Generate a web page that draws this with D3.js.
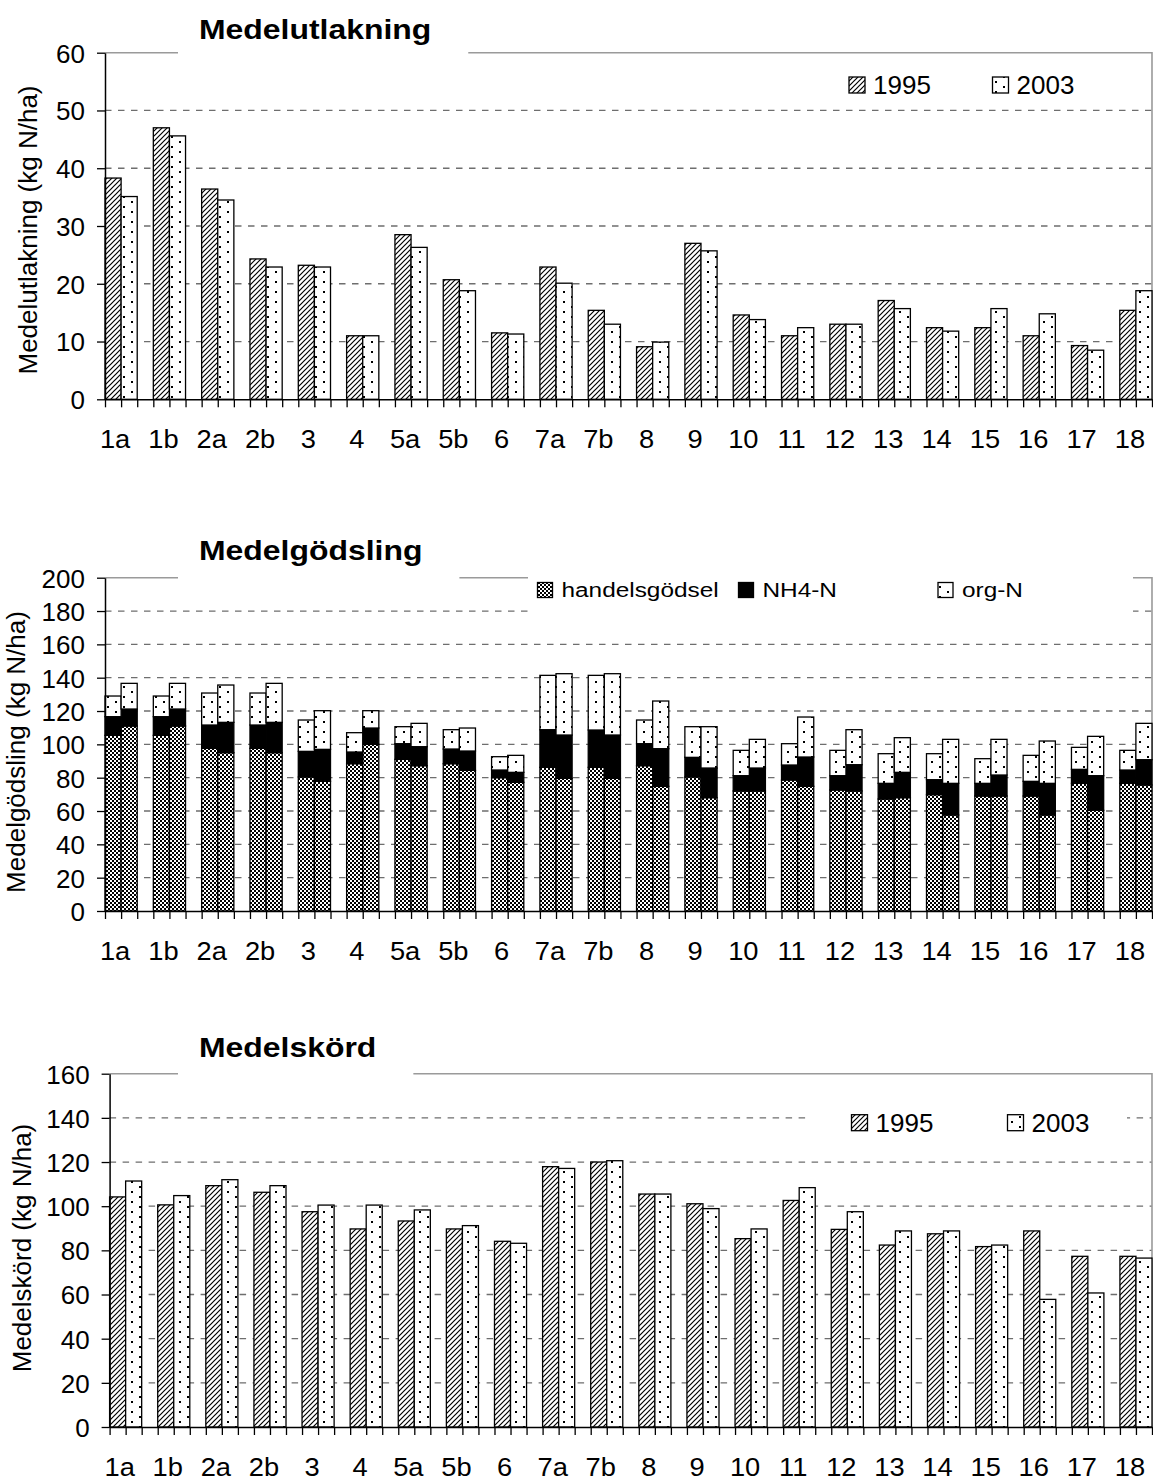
<!DOCTYPE html>
<html>
<head>
<meta charset="utf-8">
<script src="https://cdn.jsdelivr.net/npm/d3@7/dist/d3.min.js"></script>
<style>
  html, body { margin: 0; padding: 0; background: #fff; }
  svg { display: block; }
</style>
</head>
<body>
<svg id="chart" width="1153" height="1481"></svg>
<script>
// ---- data -------------------------------------------------------------
const categories = ["1a","1b","2a","2b","3","4","5a","5b","6","7a","7b","8","9","10","11","12","13","14","15","16","17","18"];
const years = ["1995", "2003"];

// Medelutlakning (kg N/ha)
const leaching1995 = [38.3, 47.0, 36.4, 24.3, 23.2, 11.0, 28.5, 20.7, 11.5, 22.9, 15.4, 9.1, 27.0, 14.6, 11.0, 13.0, 17.1, 12.4, 12.4, 11.0, 9.3, 15.4];
const leaching2003 = [35.1, 45.6, 34.5, 22.9, 22.9, 11.0, 26.3, 18.8, 11.3, 20.1, 13.0, 9.9, 25.7, 13.8, 12.4, 13.0, 15.7, 11.8, 15.7, 14.8, 8.5, 18.8];
const leachingTicks = [0, 10, 20, 30, 40, 50, 60];

// Medelgödsling (kg N/ha), stacked: handelsgödsel + NH4-N + org-N
const mineral1995 = [105.4, 105.4, 97.6, 97.6, 80.4, 88.4, 91.0, 88.4, 80.0, 86.2, 86.2, 87.2, 80.4, 72.0, 78.6, 72.6, 67.2, 69.8, 69.0, 69.0, 76.6, 76.6];
const nh4_1995    = [11.2, 11.2, 14.0, 14.0, 15.4, 7.0, 9.4, 8.8, 4.6, 22.6, 22.4, 13.2, 11.8, 9.2, 9.0, 8.6, 9.4, 9.0, 7.6, 8.8, 8.4, 8.0];
const org1995     = [12.4, 12.4, 19.2, 19.2, 18.8, 11.6, 10.2, 11.6, 8.0, 32.6, 32.8, 14.2, 18.4, 15.2, 12.8, 15.2, 17.8, 15.6, 14.8, 15.6, 13.2, 11.8];
const mineral2003 = [111.0, 111.0, 95.0, 95.0, 77.8, 100.0, 87.2, 84.4, 77.2, 79.6, 79.6, 74.8, 68.0, 72.0, 74.8, 72.0, 68.0, 57.6, 69.0, 57.6, 60.4, 75.6];
const nh4_2003    = [10.2, 10.2, 18.2, 18.2, 19.2, 9.8, 11.4, 11.6, 6.0, 26.0, 26.0, 22.6, 17.8, 13.8, 17.6, 15.8, 15.2, 19.0, 12.6, 19.0, 20.8, 15.2];
const org2003     = [15.4, 15.4, 22.4, 23.4, 23.2, 10.4, 14.0, 13.8, 10.2, 36.8, 36.8, 28.6, 24.8, 17.2, 24.0, 21.0, 20.8, 26.4, 21.4, 25.4, 23.6, 21.8];
const fertKeys = ["handelsgödsel", "NH4-N", "org-N"];
const fertTicks = [0, 20, 40, 60, 80, 100, 120, 140, 160, 180, 200];

// Medelskörd (kg N/ha)
const yield1995 = [104.2, 100.6, 109.3, 106.3, 97.5, 89.7, 93.3, 89.7, 84.1, 117.9, 120.0, 105.5, 101.1, 85.3, 102.6, 89.5, 82.4, 87.5, 81.7, 88.8, 77.3, 77.3];
const yield2003 = [111.4, 104.8, 112.0, 109.3, 100.5, 100.5, 98.3, 91.2, 83.2, 117.1, 120.6, 105.5, 98.9, 89.7, 108.4, 97.5, 88.8, 88.8, 82.4, 57.8, 60.7, 76.5];
const yieldTicks = [0, 20, 40, 60, 80, 100, 120, 140, 160];

// ---- drawing ----------------------------------------------------------
const FONT = "'Liberation Sans', Arial, Helvetica, sans-serif";
const svg = d3.select("#chart");
svg.append("rect").attr("width", 1153).attr("height", 1481).attr("fill", "#fff");

// fill patterns
const defs = svg.append("defs");
function pattern(id, w, h, build) {
  const p = defs.append("pattern").attr("id", id)
    .attr("patternUnits", "userSpaceOnUse").attr("width", w).attr("height", h);
  p.append("rect").attr("width", w).attr("height", h).attr("fill", "#fff");
  build(p);
}
pattern("hatch", 5, 5, p => p.append("path")
  .attr("d", "M-1,1 L1,-1 M0,5 L5,0 M4,6 L6,4")
  .attr("stroke", "#000").attr("stroke-width", 1.2));
pattern("dots", 16, 10, p => {
  p.append("rect").attr("x", 3).attr("y", 1).attr("width", 2).attr("height", 2).attr("fill", "#000");
  p.append("rect").attr("x", 11).attr("y", 6).attr("width", 2).attr("height", 2).attr("fill", "#000");
});
pattern("checker", 4, 4, p => {
  p.append("rect").attr("x", 0).attr("y", 0).attr("width", 2).attr("height", 2).attr("fill", "#000");
  p.append("rect").attr("x", 2).attr("y", 2).attr("width", 2).attr("height", 2).attr("fill", "#000");
});

const yearFill = { "1995": "url(#hatch)", "2003": "url(#dots)" };
const fertFill = { "handelsgödsel": "url(#checker)", "NH4-N": "#000", "org-N": "url(#dots)" };

function label(g, str, x, y, opts) {
  const o = Object.assign({ size: 26, weight: "normal", anchor: "start", sx: 1 }, opts || {});
  return g.append("text")
    .attr("transform", `translate(${x},${y}) scale(${o.sx},1)`)
    .attr("font-family", FONT).attr("font-size", o.size).attr("font-weight", o.weight)
    .attr("text-anchor", o.anchor).attr("fill", "#000")
    .text(str);
}

// builds the frame (axes, grid, title) of one panel and returns its scales
function panel(cfg) {
  const g = svg.append("g");
  const slotCount = categories.length * 3;          // two bars + one gap per category
  const slot = (cfg.right - cfg.left) / (slotCount - 1);
  const x = d3.scaleBand().domain(categories)
    .range([cfg.left, cfg.left + slotCount * slot]).paddingInner(0).paddingOuter(0);
  const xs = d3.scaleBand().domain([...years, "gap"]).range([0, x.bandwidth()]);
  const xSlot = d3.scaleLinear().domain([0, slotCount - 1]).range([cfg.left, cfg.right]);
  const y = d3.scaleLinear().domain([0, cfg.max]).range([cfg.bottom, cfg.top]);

  // dashed grid
  g.append("g").selectAll("line")
    .data(cfg.ticks.filter(t => t > 0 && t < cfg.max))
    .join("line")
    .attr("x1", cfg.left).attr("x2", cfg.right)
    .attr("y1", d => y(d)).attr("y2", d => y(d))
    .attr("stroke", "#6e6e6e").attr("stroke-width", 1.3).attr("stroke-dasharray", "6.5,6.5");

  // plot frame top/right
  g.append("path")
    .attr("d", `M${cfg.left},${y(cfg.max)} H${cfg.right} V${cfg.bottom}`)
    .attr("fill", "none").attr("stroke", "#9a9a9a").attr("stroke-width", 1.6);

  const marks = svg.append("g");

  // axes on top of the bars
  const yAxis = svg.append("g").attr("transform", `translate(${cfg.left},0)`)
    .call(d3.axisLeft(y).tickValues(cfg.ticks).tickSize(8).tickSizeOuter(0).tickPadding(12));
  yAxis.select(".domain").attr("stroke", "#000").attr("stroke-width", 1.5);
  yAxis.selectAll(".tick line").attr("stroke", "#000").attr("stroke-width", 1.3);
  yAxis.selectAll("text").attr("font-family", FONT).attr("font-size", 26).attr("fill", "#000").attr("dy", "0.36em");

  const xAxis = svg.append("g").attr("transform", `translate(0,${cfg.bottom})`)
    .call(d3.axisBottom(xSlot).tickValues(d3.range(slotCount)).tickSize(8).tickSizeOuter(0).tickFormat(""));
  xAxis.select(".domain").attr("stroke", "#000").attr("stroke-width", 1.5);
  xAxis.selectAll(".tick line").attr("stroke", "#000").attr("stroke-width", 1.3);

  const xl = svg.append("g");
  categories.forEach(c => {
    label(xl, c, x(c) + xs.bandwidth() - 6, cfg.bottom + 49, { size: 26, anchor: "middle", sx: 1.05 });
  });

  // y axis title
  svg.append("text")
    .attr("transform", `translate(${cfg.yTitleX},${cfg.yTitleY}) rotate(-90)`)
    .attr("font-family", FONT).attr("font-size", 26).attr("text-anchor", "middle").attr("fill", "#000")
    .text(cfg.yTitle);

  // chart title sitting over the frame
  const tg = svg.append("g");
  const bg = tg.append("rect").attr("fill", "#fff");
  const t = label(tg, cfg.title, 199, cfg.titleY, { size: 28, weight: "bold", sx: 1.14 });
  const w = t.node().getBBox().width * 1.14;
  bg.attr("x", 178).attr("y", cfg.titleY - 34).attr("width", 199 + w + 37 - 178)
    .attr("height", y(cfg.max) - (cfg.titleY - 34) + 3);

  return { x, xs, y, marks };
}

// legend: swatch + text entries
function legend(items, cfg) {
  const g = svg.append("g");
  if (cfg.box) g.append("rect").attr("x", cfg.box[0]).attr("y", cfg.box[1])
    .attr("width", cfg.box[2] - cfg.box[0]).attr("height", cfg.box[3] - cfg.box[1]).attr("fill", "#fff");
  items.forEach(it => {
    g.append("rect").attr("x", it.x).attr("y", cfg.cy - cfg.sw / 2)
      .attr("width", cfg.sw).attr("height", cfg.sw)
      .attr("fill", it.fill).attr("stroke", "#000").attr("stroke-width", 1.3);
    label(g, it.text, it.x + cfg.sw + cfg.gap, cfg.cy + cfg.size * 0.36, { size: cfg.size, sx: cfg.sx });
  });
}

// ---- panel 1: Medelutlakning -----------------------------------------
{
  const p = panel({ left: 105, right: 1152, top: 52.7, bottom: 399.3, max: 60, ticks: leachingTicks,
    title: "Medelutlakning", titleY: 38.5, yTitle: "Medelutlakning (kg N/ha)", yTitleX: 37, yTitleY: 230 });
  const rows = categories.map((c, i) => ({ c, "1995": leaching1995[i], "2003": leaching2003[i] }));
  years.forEach(yr => {
    p.marks.append("g").selectAll("rect").data(rows).join("rect")
      .attr("x", d => p.x(d.c) + p.xs(yr)).attr("width", p.xs.bandwidth())
      .attr("y", d => p.y(d[yr])).attr("height", d => p.y(0) - p.y(d[yr]))
      .attr("fill", yearFill[yr]).attr("stroke", "#000").attr("stroke-width", 1.3);
  });
  legend([{ x: 849, fill: yearFill["1995"], text: "1995" }, { x: 992.5, fill: yearFill["2003"], text: "2003" }],
    { cy: 85, sw: 16, gap: 8, size: 26, sx: 1 });
}

// ---- panel 2: Medelgödsling ------------------------------------------
{
  const p = panel({ left: 105, right: 1152, top: 577.7, bottom: 911, max: 200, ticks: fertTicks,
    title: "Medelgödsling", titleY: 560, yTitle: "Medelgödsling (kg N/ha)", yTitleX: 25, yTitleY: 752 });
  const table = [];
  categories.forEach((c, i) => {
    table.push({ c, yr: "1995", "handelsgödsel": mineral1995[i], "NH4-N": nh4_1995[i], "org-N": org1995[i] });
    table.push({ c, yr: "2003", "handelsgödsel": mineral2003[i], "NH4-N": nh4_2003[i], "org-N": org2003[i] });
  });
  const stacked = d3.stack().keys(fertKeys)(table);
  stacked.forEach(layer => {
    p.marks.append("g").selectAll("rect").data(layer).join("rect")
      .attr("x", d => p.x(d.data.c) + p.xs(d.data.yr)).attr("width", p.xs.bandwidth())
      .attr("y", d => p.y(d[1])).attr("height", d => p.y(d[0]) - p.y(d[1]))
      .attr("fill", fertFill[layer.key]).attr("stroke", "#000").attr("stroke-width", 1.3);
  });
  legend([{ x: 537.5, fill: fertFill["handelsgödsel"], text: "handelsgödsel" },
          { x: 738.5, fill: fertFill["NH4-N"], text: "NH4-N" },
          { x: 938, fill: fertFill["org-N"], text: "org-N" }],
    { cy: 590, sw: 15, gap: 9, size: 19.5, sx: 1.25, box: [528, 566, 1133, 622] });
}

// ---- panel 3: Medelskörd ---------------------------------------------
{
  const p = panel({ left: 109.6, right: 1152, top: 1073.7, bottom: 1427, max: 160, ticks: yieldTicks,
    title: "Medelskörd", titleY: 1056.5, yTitle: "Medelskörd (kg N/ha)", yTitleX: 31, yTitleY: 1248 });
  const rows = categories.map((c, i) => ({ c, "1995": yield1995[i], "2003": yield2003[i] }));
  years.forEach(yr => {
    p.marks.append("g").selectAll("rect").data(rows).join("rect")
      .attr("x", d => p.x(d.c) + p.xs(yr)).attr("width", p.xs.bandwidth())
      .attr("y", d => p.y(d[yr])).attr("height", d => p.y(0) - p.y(d[yr]))
      .attr("fill", yearFill[yr]).attr("stroke", "#000").attr("stroke-width", 1.3);
  });
  legend([{ x: 851.5, fill: yearFill["1995"], text: "1995" }, { x: 1007.5, fill: yearFill["2003"], text: "2003" }],
    { cy: 1122.7, sw: 16, gap: 8, size: 26, sx: 1, box: [811, 1102, 1127, 1142] });
}
</script>
</body>
</html>
